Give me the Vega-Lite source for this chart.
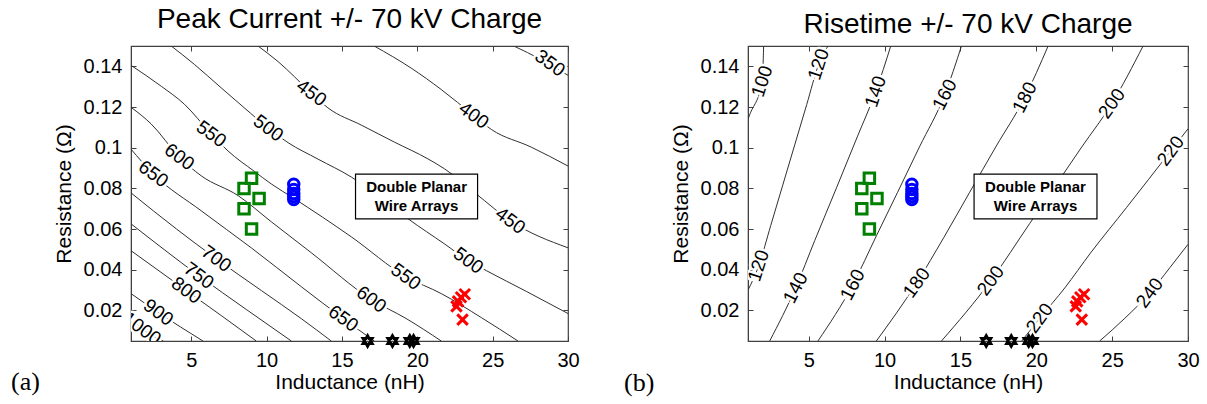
{
  "$schema": "https://vega.github.io/schema/vega-lite/v6.json",
  "background": "white",
  "padding": {"left": 10, "top": 4, "right": 3, "bottom": 0},
  "spacing": 43,
  "config": {
    "font": "Liberation Sans",
    "view": {"stroke": "#404040", "strokeWidth": 1.2},
    "axis": {
      "labelFont": "Liberation Sans", "labelFontSize": 20, "labelColor": "#000000",
      "titleFont": "Liberation Sans", "titleFontSize": 21, "titleFontWeight": "normal", "titleColor": "#000000",
      "tickColor": "#404040", "domainColor": "#404040", "grid": false, "labelFlush": false,
      "tickSize": -5, "labelPadding": 14
    },
    "title": {"font": "Liberation Sans", "fontSize": 28, "fontWeight": "normal", "color": "#000000", "frame": "group", "anchor": "middle", "baseline": "alphabetic", "offset": 12}
  },
  "datasets": {
    "peak": [
      {"level": 350, "L": 26.4, "R": 0.15}, {"level": 350, "L": 28.2, "R": 0.1434}, {"level": 350, "L": 30, "R": 0.1356},
      {"level": 400, "L": 17.14, "R": 0.15}, {"level": 400, "L": 19.6, "R": 0.1391}, {"level": 400, "L": 21.59, "R": 0.1286}, {"level": 400, "L": 23.75, "R": 0.1158}, {"level": 400, "L": 24.91, "R": 0.109}, {"level": 400, "L": 27.56, "R": 0.1003}, {"level": 400, "L": 30, "R": 0.091},
      {"level": 450, "L": 9.43, "R": 0.15}, {"level": 450, "L": 10.75, "R": 0.1424}, {"level": 450, "L": 12.97, "R": 0.1269}, {"level": 450, "L": 14.07, "R": 0.1196}, {"level": 450, "L": 16.29, "R": 0.1111}, {"level": 450, "L": 18.47, "R": 0.1028}, {"level": 450, "L": 20.71, "R": 0.0945}, {"level": 450, "L": 21.79, "R": 0.0897}, {"level": 450, "L": 23.91, "R": 0.0773}, {"level": 450, "L": 26.17, "R": 0.0641}, {"level": 450, "L": 30, "R": 0.0508},
      {"level": 500, "L": 3.67, "R": 0.15}, {"level": 500, "L": 5.2, "R": 0.141}, {"level": 500, "L": 6.99, "R": 0.1294}, {"level": 500, "L": 8.52, "R": 0.1196}, {"level": 500, "L": 10.11, "R": 0.1096}, {"level": 500, "L": 11.42, "R": 0.1025}, {"level": 500, "L": 13.41, "R": 0.0944}, {"level": 500, "L": 15.62, "R": 0.0856}, {"level": 500, "L": 17.6, "R": 0.0753}, {"level": 500, "L": 19.4, "R": 0.065}, {"level": 500, "L": 21.79, "R": 0.0528}, {"level": 500, "L": 23.38, "R": 0.0445}, {"level": 500, "L": 24.58, "R": 0.0396}, {"level": 500, "L": 27.23, "R": 0.0294}, {"level": 500, "L": 30, "R": 0.0185},
      {"level": 550, "L": 1, "R": 0.1405}, {"level": 550, "L": 3.01, "R": 0.1302}, {"level": 550, "L": 4.54, "R": 0.1214}, {"level": 550, "L": 6.33, "R": 0.1067}, {"level": 550, "L": 7.44, "R": 0.0984}, {"level": 550, "L": 9.18, "R": 0.0884}, {"level": 550, "L": 10.31, "R": 0.0822}, {"level": 550, "L": 11.77, "R": 0.0753}, {"level": 550, "L": 15.62, "R": 0.0562}, {"level": 550, "L": 19.24, "R": 0.0366}, {"level": 550, "L": 21.59, "R": 0.0283}, {"level": 550, "L": 24.25, "R": 0.0165}, {"level": 550, "L": 26.68, "R": 0.005},
      {"level": 600, "L": 1, "R": 0.1199}, {"level": 600, "L": 2.35, "R": 0.1116}, {"level": 600, "L": 4.21, "R": 0.0954}, {"level": 600, "L": 5.66, "R": 0.0862}, {"level": 600, "L": 8.12, "R": 0.0764}, {"level": 600, "L": 10.31, "R": 0.0636}, {"level": 600, "L": 12.96, "R": 0.0484}, {"level": 600, "L": 16.95, "R": 0.0254}, {"level": 600, "L": 19.27, "R": 0.016}, {"level": 600, "L": 21.59, "R": 0.005},
      {"level": 650, "L": 1, "R": 0.0993}, {"level": 650, "L": 2.48, "R": 0.0871}, {"level": 650, "L": 5.66, "R": 0.069}, {"level": 650, "L": 8.98, "R": 0.0508}, {"level": 650, "L": 12.3, "R": 0.0317}, {"level": 650, "L": 15.09, "R": 0.016}, {"level": 650, "L": 17.14, "R": 0.005},
      {"level": 700, "L": 1, "R": 0.0778}, {"level": 700, "L": 4.01, "R": 0.0601}, {"level": 700, "L": 6.66, "R": 0.0454}, {"level": 700, "L": 9.65, "R": 0.0298}, {"level": 700, "L": 12.3, "R": 0.016}, {"level": 700, "L": 14.29, "R": 0.005},
      {"level": 750, "L": 1, "R": 0.0626}, {"level": 750, "L": 5.5, "R": 0.0371}, {"level": 750, "L": 8.65, "R": 0.0205}, {"level": 750, "L": 11.64, "R": 0.005},
      {"level": 800, "L": 1, "R": 0.0494}, {"level": 800, "L": 4.67, "R": 0.0298}, {"level": 800, "L": 6.99, "R": 0.0175}, {"level": 800, "L": 9.31, "R": 0.005},
      {"level": 900, "L": 1, "R": 0.0283}, {"level": 900, "L": 2.81, "R": 0.019}, {"level": 900, "L": 5.78, "R": 0.005},
      {"level": 1000, "L": 1, "R": 0.0165}, {"level": 1000, "L": 1.72, "R": 0.0111}, {"level": 1000, "L": 3.14, "R": 0.005}
    ],
    "peakLab": [
      {"t": "350", "L": 28.8, "R": 0.1415}, {"t": "400", "L": 23.75, "R": 0.1158},
      {"t": "450", "L": 12.97, "R": 0.1269}, {"t": "450", "L": 26.17, "R": 0.0641},
      {"t": "500", "L": 10.11, "R": 0.1096}, {"t": "500", "L": 23.38, "R": 0.0445},
      {"t": "550", "L": 6.33, "R": 0.1067}, {"t": "550", "L": 19.24, "R": 0.0366},
      {"t": "600", "L": 4.21, "R": 0.0954}, {"t": "600", "L": 16.95, "R": 0.0254},
      {"t": "650", "L": 2.48, "R": 0.0871}, {"t": "650", "L": 15.09, "R": 0.016},
      {"t": "700", "L": 6.66, "R": 0.0454}, {"t": "750", "L": 5.5, "R": 0.0371},
      {"t": "800", "L": 4.67, "R": 0.0298}, {"t": "900", "L": 2.81, "R": 0.019},
      {"t": "1000", "L": 1.72, "R": 0.0111}
    ],
    "rise": [
      {"level": 100, "L": 1, "R": 0.114}, {"level": 100, "L": 1.11, "R": 0.1162}, {"level": 100, "L": 1.94, "R": 0.1326}, {"level": 100, "L": 2.03, "R": 0.15},
      {"level": 120, "L": 1, "R": 0.03}, {"level": 120, "L": 1.71, "R": 0.042}, {"level": 120, "L": 2.5, "R": 0.0618}, {"level": 120, "L": 3.29, "R": 0.0816}, {"level": 120, "L": 4.08, "R": 0.1014}, {"level": 120, "L": 4.87, "R": 0.1212}, {"level": 120, "L": 5.66, "R": 0.141}, {"level": 120, "L": 6.27, "R": 0.15},
      {"level": 140, "L": 2.43, "R": 0.005}, {"level": 140, "L": 4.14, "R": 0.0311}, {"level": 140, "L": 5.4, "R": 0.0544}, {"level": 140, "L": 6.85, "R": 0.0806}, {"level": 140, "L": 8.2, "R": 0.1053}, {"level": 140, "L": 9.42, "R": 0.1276}, {"level": 140, "L": 10.41, "R": 0.15},
      {"level": 160, "L": 5.61, "R": 0.005}, {"level": 160, "L": 7.9, "R": 0.0326}, {"level": 160, "L": 9.47, "R": 0.0568}, {"level": 160, "L": 10.86, "R": 0.0781}, {"level": 160, "L": 12.3, "R": 0.1004}, {"level": 160, "L": 13.97, "R": 0.1261}, {"level": 160, "L": 15.07, "R": 0.15},
      {"level": 180, "L": 9.46, "R": 0.005}, {"level": 180, "L": 12.12, "R": 0.0336}, {"level": 180, "L": 13.9, "R": 0.0558}, {"level": 180, "L": 15.61, "R": 0.0781}, {"level": 180, "L": 17.33, "R": 0.1004}, {"level": 180, "L": 19.24, "R": 0.1247}, {"level": 180, "L": 20.78, "R": 0.15},
      {"level": 200, "L": 13.75, "R": 0.005}, {"level": 200, "L": 17.0, "R": 0.0346}, {"level": 200, "L": 19.57, "R": 0.0628}, {"level": 200, "L": 21.42, "R": 0.0831}, {"level": 200, "L": 23.0, "R": 0.1004}, {"level": 200, "L": 24.98, "R": 0.1217}, {"level": 200, "L": 27.04, "R": 0.15},
      {"level": 220, "L": 19.04, "R": 0.005}, {"level": 220, "L": 20.23, "R": 0.0162}, {"level": 220, "L": 21.88, "R": 0.0311}, {"level": 220, "L": 23.59, "R": 0.0484}, {"level": 220, "L": 25.96, "R": 0.0707}, {"level": 220, "L": 28.86, "R": 0.0984}, {"level": 220, "L": 30, "R": 0.1093},
      {"level": 240, "L": 24.18, "R": 0.005}, {"level": 240, "L": 25.84, "R": 0.0162}, {"level": 240, "L": 27.48, "R": 0.0286}, {"level": 240, "L": 28.8, "R": 0.041}, {"level": 240, "L": 30, "R": 0.0525}
    ],
    "riseLabSteep": [
      {"t": "100", "L": 1.94, "R": 0.1326}, {"t": "120", "L": 5.66, "R": 0.141}, {"t": "120", "L": 1.71, "R": 0.042}, {"t": "140", "L": 9.42, "R": 0.1276}
    ],
    "riseLabMid": [
      {"t": "140", "L": 4.14, "R": 0.0311}, {"t": "160", "L": 13.97, "R": 0.1261}, {"t": "160", "L": 7.9, "R": 0.0326}, {"t": "180", "L": 19.24, "R": 0.1247}
    ],
    "riseLabFlat": [
      {"t": "180", "L": 12.12, "R": 0.0336}, {"t": "200", "L": 24.98, "R": 0.1217}, {"t": "200", "L": 17.0, "R": 0.0346}, {"t": "220", "L": 28.86, "R": 0.0984}, {"t": "220", "L": 20.23, "R": 0.0162}, {"t": "240", "L": 27.48, "R": 0.0286}
    ],
    "box": [{"L1": 15.9, "L2": 24.0, "R1": 0.065, "R2": 0.087}],
    "boxText": [{"t": "Double Planar", "L": 19.95, "R": 0.0805}, {"t": "Wire Arrays", "L": 19.95, "R": 0.0713}],
    "shots": [
      {"g": "green", "L": 9.0, "R": 0.085}, {"g": "green", "L": 8.5, "R": 0.08}, {"g": "green", "L": 9.5, "R": 0.075}, {"g": "green", "L": 8.5, "R": 0.07}, {"g": "green", "L": 9.0, "R": 0.06},
      {"g": "blue", "L": 11.8, "R": 0.082}, {"g": "blue", "L": 11.8, "R": 0.0795}, {"g": "blue", "L": 11.8, "R": 0.0775}, {"g": "blue", "L": 11.8, "R": 0.076}, {"g": "blue", "L": 11.8, "R": 0.0745},
      {"g": "red", "L": 23.15, "R": 0.028}, {"g": "red", "L": 22.9, "R": 0.0265}, {"g": "red", "L": 22.7, "R": 0.0245}, {"g": "red", "L": 22.6, "R": 0.022}, {"g": "red", "L": 23.0, "R": 0.0155},
      {"g": "black", "L": 16.7, "R": 0.005}, {"g": "black", "L": 18.35, "R": 0.005}, {"g": "black", "L": 19.5, "R": 0.005}, {"g": "black", "L": 19.75, "R": 0.005}
    ],
    "tagA": [{"t": "(a)", "L": -6.0, "R": -0.0192}],
    "tagB": [{"t": "(b)", "L": -6.17, "R": -0.0194}]
  },
  "hconcat": [
    {
      "width": 437, "height": 295,
      "title": {"text": "Peak Current +/- 70 kV Charge"},
      "resolve": {"axis": {"x": "independent", "y": "independent"}},
      "layer": [
        {
          "data": {"name": "peak"},
          "mark": {"type": "line", "interpolate": "monotone", "color": "#303030", "strokeWidth": 1, "clip": true},
          "encoding": {
            "x": {"field": "L", "type": "quantitative", "scale": {"domain": [1, 30], "nice": false, "zero": false},
                  "axis": {"orient": "bottom", "values": [5, 10, 15, 20, 25, 30], "title": "Inductance (nH)", "titlePadding": 1}},
            "y": {"field": "R", "type": "quantitative", "scale": {"domain": [0.005, 0.15], "nice": false, "zero": false},
                  "axis": {"orient": "left", "values": [0.02, 0.04, 0.06, 0.08, 0.1, 0.12, 0.14], "format": ".2~f", "title": "Resistance (Ω)", "titlePadding": 9}},
            "detail": {"field": "level", "type": "nominal"}
          }
        },
        {
          "data": {"name": "peakLab"},
          "encoding": {
            "x": {"field": "L", "type": "quantitative", "axis": null},
            "y": {"field": "R", "type": "quantitative", "axis": null},
            "text": {"field": "t", "type": "nominal"}
          },
          "layer": [
            {"mark": {"type": "text", "angle": 36, "fontSize": 19, "font": "Liberation Sans", "fill": "white", "stroke": "white", "strokeWidth": 5, "clip": true}},
            {"mark": {"type": "text", "angle": 36, "fontSize": 19, "font": "Liberation Sans", "color": "#000000", "clip": true}}
          ]
        },
        {
          "data": {"name": "box"},
          "mark": {"type": "rect", "fill": "white", "stroke": "#000000", "strokeWidth": 1.2},
          "encoding": {
            "x": {"field": "L1", "type": "quantitative", "axis": {"orient": "top", "labels": false, "title": null, "domain": false, "values": [5, 10, 15, 20, 25, 30]}},
            "x2": {"field": "L2"},
            "y": {"field": "R1", "type": "quantitative", "axis": {"orient": "right", "labels": false, "title": null, "domain": false, "values": [0.02, 0.04, 0.06, 0.08, 0.1, 0.12, 0.14]}},
            "y2": {"field": "R2"}
          }
        },
        {
          "data": {"name": "boxText"},
          "mark": {"type": "text", "font": "Liberation Sans", "fontSize": 15, "fontWeight": "bold", "color": "#000000"},
          "encoding": {
            "x": {"field": "L", "type": "quantitative", "axis": null},
            "y": {"field": "R", "type": "quantitative", "axis": null},
            "text": {"field": "t", "type": "nominal"}
          }
        },
        {
          "data": {"name": "shots"},
          "mark": {"type": "point", "filled": false, "strokeWidth": 3, "opacity": 1, "clip": false},
          "encoding": {
            "x": {"field": "L", "type": "quantitative", "axis": null},
            "y": {"field": "R", "type": "quantitative", "axis": null},
            "shape": {"field": "g", "type": "nominal", "legend": null,
                      "scale": {"domain": ["green", "blue", "red", "black"], "range": ["square", "circle", "M-1,-1L1,1M-1,1L1,-1", "M0,-1L0.289,-0.5L0.866,-0.5L0.577,0L0.866,0.5L0.289,0.5L0,1L-0.289,0.5L-0.866,0.5L-0.577,0L-0.866,-0.5L-0.289,-0.5Z"]}},
            "color": {"field": "g", "type": "nominal", "legend": null,
                      "scale": {"domain": ["green", "blue", "red", "black"], "range": ["#008000", "#0000ff", "#ff0000", "#000000"]}},
            "size": {"field": "g", "type": "nominal", "legend": null,
                     "scale": {"domain": ["green", "blue", "red", "black"], "range": [110, 110, 200, 180]}}
          }
        },
        {
          "data": {"name": "tagA"},
          "mark": {"type": "text", "font": "Liberation Serif", "fontSize": 26, "align": "center", "baseline": "alphabetic", "color": "#000000", "clip": false},
          "encoding": {
            "x": {"field": "L", "type": "quantitative", "axis": null},
            "y": {"field": "R", "type": "quantitative", "axis": null},
            "text": {"field": "t", "type": "nominal"}
          }
        }
      ]
    },
    {
      "width": 440, "height": 295,
      "title": {"text": "Risetime +/- 70 kV Charge", "offset": 7},
      "resolve": {"axis": {"x": "independent", "y": "independent"}},
      "layer": [
        {
          "data": {"name": "rise"},
          "mark": {"type": "line", "interpolate": "monotone", "color": "#303030", "strokeWidth": 1, "clip": true},
          "encoding": {
            "x": {"field": "L", "type": "quantitative", "scale": {"domain": [1, 30], "nice": false, "zero": false},
                  "axis": {"orient": "bottom", "values": [5, 10, 15, 20, 25, 30], "title": "Inductance (nH)", "titlePadding": 1}},
            "y": {"field": "R", "type": "quantitative", "scale": {"domain": [0.005, 0.15], "nice": false, "zero": false},
                  "axis": {"orient": "left", "values": [0.02, 0.04, 0.06, 0.08, 0.1, 0.12, 0.14], "format": ".2~f", "title": "Resistance (Ω)", "titlePadding": 9}},
            "detail": {"field": "level", "type": "nominal"}
          }
        },
        {
          "data": {"name": "riseLabSteep"},
          "encoding": {
            "x": {"field": "L", "type": "quantitative", "axis": null},
            "y": {"field": "R", "type": "quantitative", "axis": null},
            "text": {"field": "t", "type": "nominal"}
          },
          "layer": [
            {"mark": {"type": "text", "angle": -72, "fontSize": 19, "font": "Liberation Sans", "fill": "white", "stroke": "white", "strokeWidth": 5, "clip": true}},
            {"mark": {"type": "text", "angle": -72, "fontSize": 19, "font": "Liberation Sans", "color": "#000000", "clip": true}}
          ]
        },
        {
          "data": {"name": "riseLabMid"},
          "encoding": {
            "x": {"field": "L", "type": "quantitative", "axis": null},
            "y": {"field": "R", "type": "quantitative", "axis": null},
            "text": {"field": "t", "type": "nominal"}
          },
          "layer": [
            {"mark": {"type": "text", "angle": -63, "fontSize": 19, "font": "Liberation Sans", "fill": "white", "stroke": "white", "strokeWidth": 5, "clip": true}},
            {"mark": {"type": "text", "angle": -63, "fontSize": 19, "font": "Liberation Sans", "color": "#000000", "clip": true}}
          ]
        },
        {
          "data": {"name": "riseLabFlat"},
          "encoding": {
            "x": {"field": "L", "type": "quantitative", "axis": null},
            "y": {"field": "R", "type": "quantitative", "axis": null},
            "text": {"field": "t", "type": "nominal"}
          },
          "layer": [
            {"mark": {"type": "text", "angle": -54, "fontSize": 19, "font": "Liberation Sans", "fill": "white", "stroke": "white", "strokeWidth": 5, "clip": true}},
            {"mark": {"type": "text", "angle": -54, "fontSize": 19, "font": "Liberation Sans", "color": "#000000", "clip": true}}
          ]
        },
        {
          "data": {"name": "box"},
          "mark": {"type": "rect", "fill": "white", "stroke": "#000000", "strokeWidth": 1.2},
          "encoding": {
            "x": {"field": "L1", "type": "quantitative", "axis": {"orient": "top", "labels": false, "title": null, "domain": false, "values": [5, 10, 15, 20, 25, 30]}},
            "x2": {"field": "L2"},
            "y": {"field": "R1", "type": "quantitative", "axis": {"orient": "right", "labels": false, "title": null, "domain": false, "values": [0.02, 0.04, 0.06, 0.08, 0.1, 0.12, 0.14]}},
            "y2": {"field": "R2"}
          }
        },
        {
          "data": {"name": "boxText"},
          "mark": {"type": "text", "font": "Liberation Sans", "fontSize": 15, "fontWeight": "bold", "color": "#000000"},
          "encoding": {
            "x": {"field": "L", "type": "quantitative", "axis": null},
            "y": {"field": "R", "type": "quantitative", "axis": null},
            "text": {"field": "t", "type": "nominal"}
          }
        },
        {
          "data": {"name": "shots"},
          "mark": {"type": "point", "filled": false, "strokeWidth": 3, "opacity": 1, "clip": false},
          "encoding": {
            "x": {"field": "L", "type": "quantitative", "axis": null},
            "y": {"field": "R", "type": "quantitative", "axis": null},
            "shape": {"field": "g", "type": "nominal", "legend": null,
                      "scale": {"domain": ["green", "blue", "red", "black"], "range": ["square", "circle", "M-1,-1L1,1M-1,1L1,-1", "M0,-1L0.289,-0.5L0.866,-0.5L0.577,0L0.866,0.5L0.289,0.5L0,1L-0.289,0.5L-0.866,0.5L-0.577,0L-0.866,-0.5L-0.289,-0.5Z"]}},
            "color": {"field": "g", "type": "nominal", "legend": null,
                      "scale": {"domain": ["green", "blue", "red", "black"], "range": ["#008000", "#0000ff", "#ff0000", "#000000"]}},
            "size": {"field": "g", "type": "nominal", "legend": null,
                     "scale": {"domain": ["green", "blue", "red", "black"], "range": [110, 110, 200, 180]}}
          }
        },
        {
          "data": {"name": "tagB"},
          "mark": {"type": "text", "font": "Liberation Serif", "fontSize": 26, "align": "center", "baseline": "alphabetic", "color": "#000000", "clip": false},
          "encoding": {
            "x": {"field": "L", "type": "quantitative", "axis": null},
            "y": {"field": "R", "type": "quantitative", "axis": null},
            "text": {"field": "t", "type": "nominal"}
          }
        }
      ]
    }
  ]
}
